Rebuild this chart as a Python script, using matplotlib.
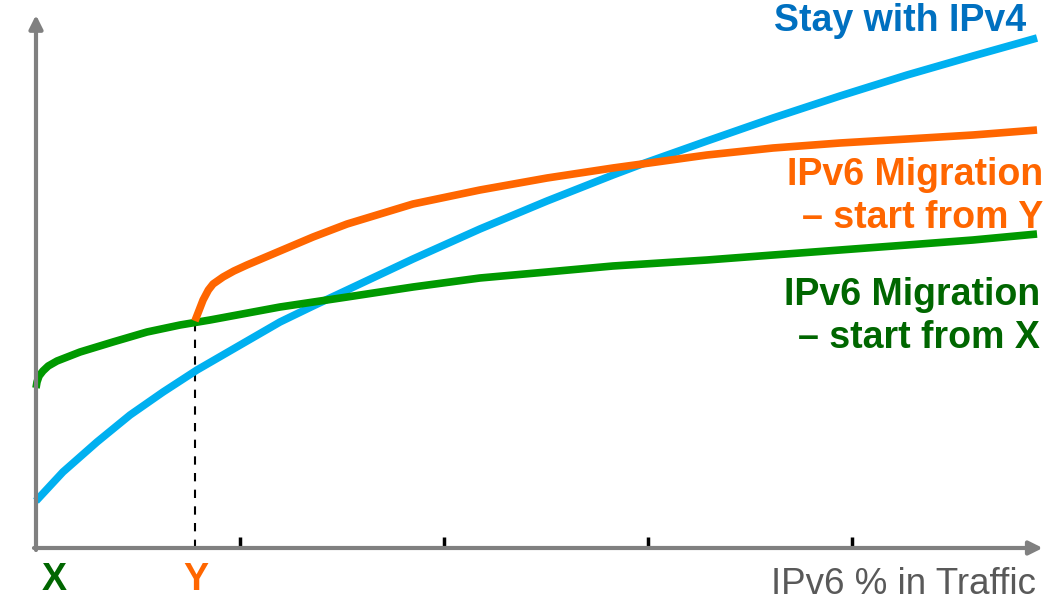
import matplotlib
matplotlib.use("Agg")
import matplotlib.pyplot as plt

plt.rcParams["font.family"] = ["Liberation Sans", "DejaVu Sans"]

# x: IPv6 share (tick units), y: cost (arbitrary units)
ticks = [1, 2, 3, 4]

stay_x = [0, 0.132, 0.299, 0.461, 0.623, 0.789, 1.196, 1.358, 1.525, 1.848,
          2.176, 2.505, 2.828, 2.971, 3.289, 3.613, 3.941, 4.270, 4.593, 4.907]
stay_y = [0.47, 0.76, 1.06, 1.33, 1.56, 1.78, 2.26, 2.42, 2.58, 2.89,
          3.19, 3.47, 3.73, 3.84, 4.07, 4.30, 4.52, 4.73, 4.92, 5.10]

migr_y_x = [0.779, 0.800, 0.819, 0.845, 0.868, 0.917, 0.97, 1.034, 1.196, 1.358,
            1.525, 1.848, 2.176, 2.505, 2.828, 2.971, 3.289, 3.613, 3.941,
            4.270, 4.593, 4.907]
migr_y_y = [2.27, 2.38, 2.48, 2.58, 2.64, 2.71, 2.77, 2.83, 2.97, 3.11,
            3.24, 3.44, 3.58, 3.70, 3.80, 3.84, 3.93, 4.00, 4.05,
            4.09, 4.13, 4.18]

migr_x_x = [0, 0.005, 0.015, 0.034, 0.060, 0.103, 0.216, 0.377, 0.544, 0.706,
            0.853, 1.196, 1.525, 1.848, 2.176, 2.505, 2.828, 3.289,
            3.613, 3.941, 4.270, 4.593, 4.907]
migr_x_y = [1.60, 1.66, 1.72, 1.77, 1.82, 1.87, 1.96, 2.06, 2.16, 2.23,
            2.28, 2.41, 2.51, 2.61, 2.70, 2.76, 2.82, 2.88,
            2.93, 2.98, 3.03, 3.08, 3.14]

y_start = 0.779

fig = plt.figure(figsize=(10.64, 6.01), dpi=100)
ax = fig.add_axes([0, 0, 1, 1])
ax.set_xlim(-36 / 204, 1028 / 204)
ax.set_ylim(-0.53, 5.48)
ax.axis("off")

gray = "#808080"
ax.annotate("", xy=(0, 5.33), xytext=(0, -0.02),
            arrowprops=dict(arrowstyle="-|>,head_length=0.8,head_width=0.4",
                            color=gray, lw=3, shrinkA=0, shrinkB=0))
ax.annotate("", xy=(4.935, 0), xytext=(-0.01, 0),
            arrowprops=dict(arrowstyle="-|>,head_length=0.8,head_width=0.4",
                            color=gray, lw=3, shrinkA=0, shrinkB=0))
ax.vlines(ticks, 0, 0.11, color="black", lw=2.5)

ax.plot([y_start, y_start], [0, migr_y_y[0]], color="black", lw=1.5,
        ls=(0, (4, 4)))

ax.plot(stay_x, stay_y, color="#00B0F0", lw=5.5, solid_capstyle="butt")
ax.plot(migr_x_x, migr_x_y, color="#009900", lw=5.5, solid_capstyle="butt")
ax.plot(migr_y_x, migr_y_y, color="#FF6600", lw=5.5, solid_capstyle="butt")


def fx(px):
    return px / 1064


def fy(py):
    return 1 - py / 601


bold = dict(fontsize=27, fontweight="bold", ha="right", va="center")
fig.text(fx(1026), fy(21), "Stay with IPv4", color="#0070C0", **bold)
fig.text(fx(1043), fy(175), "IPv6 Migration", color="#FF6600", **bold)
fig.text(fx(1043), fy(218), "– start from Y", color="#FF6600", **bold)
fig.text(fx(1040), fy(295), "IPv6 Migration", color="#006600", **bold)
fig.text(fx(1040), fy(338), "– start from X", color="#006600", **bold)

fig.text(fx(54), fy(580), "X", color="#006600", fontsize=27,
         fontweight="bold", ha="center", va="center")
fig.text(fx(196), fy(580), "Y", color="#FF6600", fontsize=27,
         fontweight="bold", ha="center", va="center")
fig.text(fx(1036), fy(584), "IPv6 % in Traffic", color="#595959",
         fontsize=26.5, ha="right", va="center")

fig.savefig("out.png", dpi=100)
